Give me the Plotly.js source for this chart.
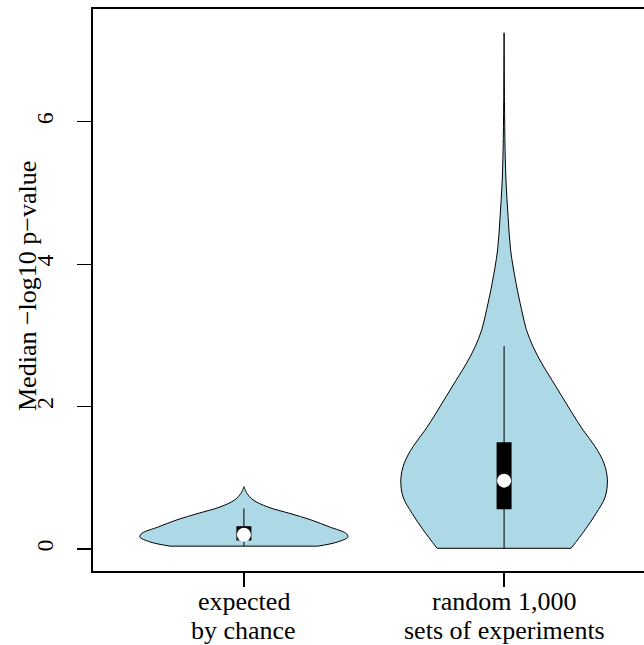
<!DOCTYPE html>
<html>
<head>
<meta charset="utf-8">
<script src="https://cdn.plot.ly/plotly-3.0.1.min.js"></script>
<style>
  html, body { margin: 0; padding: 0; overflow: hidden; background: #fff; }
  #chart { width: 656px; height: 645px; }
</style>
</head>
<body>
<div id="chart"></div>
<script>
// Category labels (two lines each)
var labelLine1 = ["expected", "random 1,000"];
var labelLine2 = ["by chance", "sets of experiments"];
var positions = [1, 2];

// Density profile of violin 1 (value, half-width in x units)
var v1Values = [0.04, 0.10, 0.17, 0.22, 0.31, 0.41, 0.50, 0.59, 0.69, 0.78, 0.875];
var v1Half   = [0.284, 0.361, 0.400, 0.392, 0.329, 0.257, 0.176, 0.092, 0.035, 0.012, 0.0];

// Density profile of violin 2
var v2Values = [0.01, 0.27, 0.50, 0.73, 0.97, 1.20, 1.44, 1.67, 1.91, 2.14, 2.37, 2.61, 2.84, 3.08, 3.36, 3.73, 4.20, 4.67, 5.14, 5.60, 6.30, 7.25];
var v2Half   = [0.2575, 0.3113, 0.3536, 0.3882, 0.397, 0.3843, 0.3497, 0.3036, 0.2613, 0.2229, 0.1845, 0.1441, 0.1115, 0.0857, 0.0673, 0.0461, 0.025, 0.0154, 0.0077, 0.0038, 0.0015, 0.0];

// Box statistics: [lower whisker, q1, median, q3, upper whisker]
var stats1 = [0.04, 0.12, 0.20, 0.32, 0.57];
var stats2 = [0.01, 0.56, 0.96, 1.50, 2.85];

var yTicks = [0, 2, 4, 6];
var yTickLabels = ["0", "2", "4", "6"];

function violinSides(center, vals, half) {
  var xs = [], ys = [];
  for (var i = 0; i < vals.length; i++) { xs.push(center - half[i]); ys.push(vals[i]); }
  for (var j = vals.length - 1; j >= 0; j--) { xs.push(center + half[j]); ys.push(vals[j]); }
  return {
    x: xs, y: ys, type: 'scatter', mode: 'lines', fill: 'toself',
    fillcolor: '#ADD8E6', line: {color: '#000', width: 1, shape: 'spline', smoothing: 1},
    hoverinfo: 'skip', showlegend: false
  };
}
function violinBase(center, vals, half) {
  return {x: [center - half[0], center + half[0]], y: [vals[0], vals[0]], type: 'scatter', mode: 'lines',
    line: {color: '#000', width: 1}, hoverinfo: 'skip', showlegend: false};
}
function whisker(center, s) {
  return {x: [center, center], y: [s[0], s[4]], type: 'scatter', mode: 'lines',
    line: {color: '#000', width: 1}, hoverinfo: 'skip', showlegend: false};
}
function boxBar(center, s) {
  return {x: [center, center], y: [s[1], s[3]], type: 'scatter', mode: 'lines',
    line: {color: '#000', width: 15}, hoverinfo: 'skip', showlegend: false};
}
function medianDot(center, s) {
  return {x: [center], y: [s[2]], type: 'scatter', mode: 'markers',
    marker: {color: '#fff', size: 14, line: {width: 0}}, hoverinfo: 'skip', showlegend: false};
}

var data = [
  violinSides(positions[0], v1Values, v1Half),
  violinSides(positions[1], v2Values, v2Half),
  violinBase(positions[0], v1Values, v1Half),
  violinBase(positions[1], v2Values, v2Half),
  whisker(positions[0], stats1), whisker(positions[1], stats2),
  boxBar(positions[0], stats1), boxBar(positions[1], stats2),
  medianDot(positions[0], stats1), medianDot(positions[1], stats2)
];

var fam = 'Liberation Serif, Times New Roman, serif';
var bigFont = {family: fam, size: 26, color: '#000'};
var tickFont = {family: fam, size: 24, color: '#000'};

var annotations = [{
  text: 'Median \u2212log10 p\u2212value', xref: 'paper', yref: 'paper',
  x: 0, y: 0.5, xshift: -66, yshift: 4, xanchor: 'center', yanchor: 'middle',
  textangle: -90, showarrow: false, font: bigFont
}];
for (var k = 0; k < positions.length; k++) {
  annotations.push({text: labelLine1[k], xref: 'x', yref: 'paper', x: positions[k], y: 0,
    xanchor: 'center', yanchor: 'top', yshift: -14, showarrow: false, font: bigFont});
  annotations.push({text: labelLine2[k], xref: 'x', yref: 'paper', x: positions[k], y: 0,
    xanchor: 'center', yanchor: 'top', yshift: -43, showarrow: false, font: bigFont});
}

var layout = {
  width: 656, height: 645,
  margin: {l: 93, r: 1, t: 9, b: 74},
  paper_bgcolor: '#fff', plot_bgcolor: '#fff',
  font: bigFont,
  showlegend: false,
  xaxis: {
    range: [0.42, 2.58], tickmode: 'array', tickvals: positions, showticklabels: false,
    ticks: 'outside', ticklen: 14, tickwidth: 1.2, tickcolor: '#000',
    showline: true, linecolor: '#000', linewidth: 2, mirror: true,
    showgrid: false, zeroline: false
  },
  yaxis: {
    range: [-0.309, 7.584], tickmode: 'array', tickvals: yTicks, ticktext: yTickLabels,
    ticks: 'outside', ticklen: 14, tickwidth: 1.2, tickcolor: '#000', tickangle: -90,
    ticklabelstandoff: 14,
    showline: true, linecolor: '#000', linewidth: 2, mirror: true,
    showgrid: false, zeroline: false, tickfont: tickFont
  },
  annotations: annotations
};

Plotly.newPlot('chart', data, layout, {displayModeBar: false, staticPlot: true});
</script>
</body>
</html>
